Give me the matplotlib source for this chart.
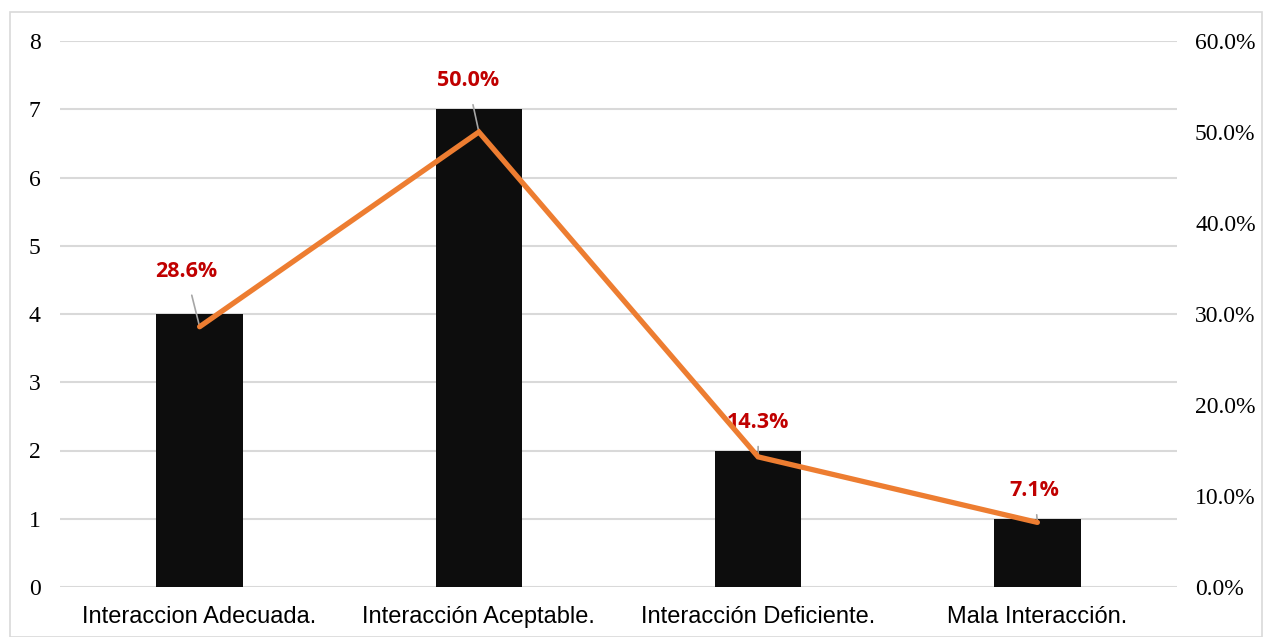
import matplotlib.pyplot as plt
from matplotlib.patches import Rectangle
from matplotlib.ticker import FuncFormatter

categories = ["Interaccion Adecuada.", "Interacción Aceptable.",
              "Interacción Deficiente.", "Mala Interacción."]
counts = [4, 7, 2, 1]
percents = [28.6, 50.0, 14.3, 7.1]
# label offsets in points (dx, dy) from each line point
label_offsets = [(-10, 40), (-8, 37), (0, 25), (-2, 23)]

fig = plt.figure(figsize=(12.63, 6.37), dpi=100)
fig.patches.append(Rectangle((10/1263, 0), 1 - 10/1263 - 0.001, 1 - 12/637,
                             transform=fig.transFigure, fill=False,
                             edgecolor="#D9D9D9", linewidth=1.2))
ax = fig.add_axes([60/1263, 50/637, 1117/1263, 546/637])
ax2 = ax.twinx()

x = range(len(categories))
ax.bar(x, counts, width=0.31, color="#0D0D0D", zorder=3)
ax.set_xlim(-0.5, 3.5)
ax.set_ylim(0, 8)
ax.set_yticks(range(0, 9))
ax.grid(axis="y", color="#D9D9D9", linewidth=1.5, zorder=0)
ax.set_axisbelow(True)
for s in ax.spines.values():
    s.set_visible(False)
for s in ax2.spines.values():
    s.set_visible(False)
ax.tick_params(axis="y", length=0, pad=14)
ax.set_xticks(list(x))
ax.set_xticklabels(categories, fontfamily="Liberation Sans", fontsize=17)
ax.tick_params(axis="x", length=0, pad=14)
for t in ax.get_yticklabels():
    t.set_fontfamily("Liberation Serif")
    t.set_fontsize(17)

ax2.plot(x, percents, color="#ED7D31", linewidth=3.8, zorder=4,
         solid_capstyle="round", solid_joinstyle="miter")
ax2.set_ylim(0, 60)
ax2.set_yticks(range(0, 61, 10))
ax2.yaxis.set_major_formatter(FuncFormatter(lambda v, p: "%.1f%%" % v))
ax2.tick_params(length=0, pad=13)
for t in ax2.get_yticklabels():
    t.set_fontfamily("Liberation Serif")
    t.set_fontsize(17)

for i, p in enumerate(percents):
    ax2.annotate("%.1f%%" % p, xy=(i, p), xytext=label_offsets[i],
                 textcoords="offset points", ha="center", va="center",
                 color="#C00000", fontsize=15.5, fontweight="bold",
                 fontfamily="Open Sans",
                 arrowprops=dict(arrowstyle="-", color="#A6A6A6", lw=1.2,
                                 shrinkA=8, shrinkB=0))

fig.savefig("out.png", dpi=100)
